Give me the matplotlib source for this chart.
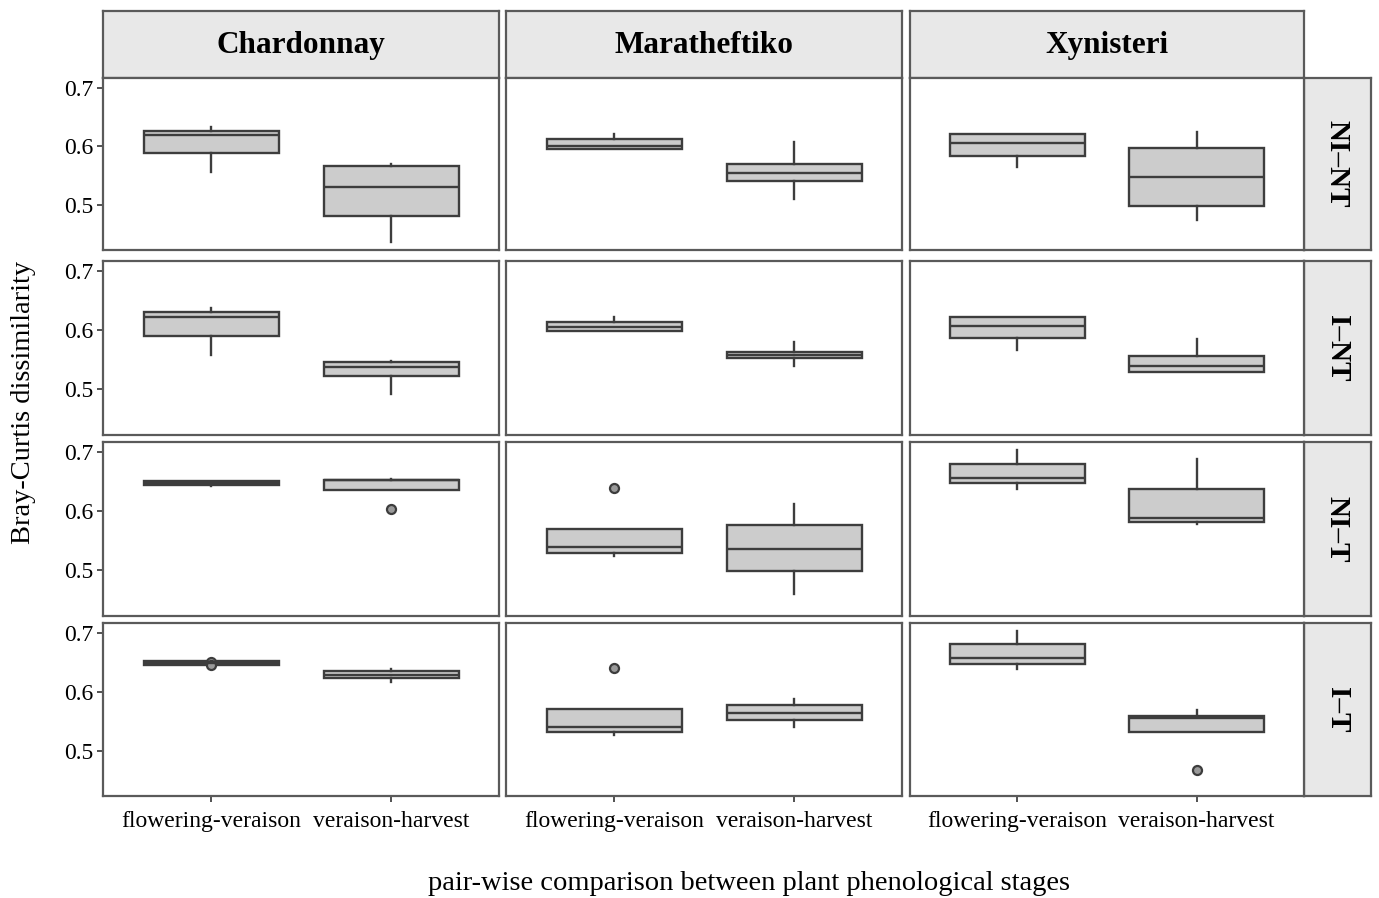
import matplotlib
matplotlib.use("Agg")
import matplotlib.pyplot as plt

plt.rcParams['font.family'] = ['Liberation Serif', 'DejaVu Serif']

# Facet levels
cultivars = ["Chardonnay", "Maratheftiko", "Xynisteri"]
treatments = ["NI–NT", "I–NT", "NI–T", "I–T"]
comparisons = ["flowering-veraison", "veraison-harvest"]

# Box summaries per (treatment, cultivar): [whislo, q1, median, q3, whishi]
# listed as flowering-veraison then veraison-harvest
chardonnay_stats = [
    [[0.556, 0.588, 0.619, 0.627, 0.634], [0.436, 0.481, 0.530, 0.566, 0.570]],
    [[0.559, 0.590, 0.623, 0.630, 0.637], [0.493, 0.522, 0.538, 0.547, 0.548]],
    [[0.643, 0.645, 0.648, 0.651, 0.651], [0.636, 0.636, 0.652, 0.653, 0.654]],
    [[0.646, 0.646, 0.649, 0.652, 0.652], [0.617, 0.623, 0.629, 0.636, 0.639]],
]
maratheftiko_stats = [
    [[0.596, 0.596, 0.601, 0.613, 0.621], [0.511, 0.541, 0.554, 0.570, 0.607]],
    [[0.598, 0.598, 0.605, 0.614, 0.623], [0.539, 0.553, 0.559, 0.564, 0.580]],
    [[0.525, 0.530, 0.540, 0.570, 0.570], [0.461, 0.499, 0.537, 0.576, 0.613]],
    [[0.526, 0.531, 0.540, 0.571, 0.571], [0.540, 0.552, 0.564, 0.577, 0.588]],
]
xynisteri_stats = [
    [[0.565, 0.584, 0.606, 0.621, 0.621], [0.475, 0.499, 0.548, 0.598, 0.625]],
    [[0.567, 0.587, 0.608, 0.623, 0.623], [0.529, 0.529, 0.539, 0.557, 0.586]],
    [[0.638, 0.647, 0.657, 0.680, 0.704], [0.578, 0.582, 0.588, 0.638, 0.689]],
    [[0.639, 0.648, 0.658, 0.681, 0.704], [0.531, 0.531, 0.555, 0.559, 0.570]],
]

# Outlying points per (treatment, cultivar), same ordering
chardonnay_fliers = [
    [[], []],
    [[], []],
    [[], [0.604]],
    [[0.651, 0.646], []],
]
maratheftiko_fliers = [
    [[], []],
    [[], []],
    [[0.640], []],
    [[0.641], []],
]
xynisteri_fliers = [
    [[], []],
    [[], []],
    [[], []],
    [[], [0.467]],
]

stats_by_cultivar = [chardonnay_stats, maratheftiko_stats, xynisteri_stats]
fliers_by_cultivar = [chardonnay_fliers, maratheftiko_fliers, xynisteri_fliers]

y_ticks = [0.5, 0.6, 0.7]
y_limits = (0.423, 0.717)

W, H = 1379, 898
fig = plt.figure(figsize=(W / 100, H / 100), dpi=100)
fig.patch.set_facecolor("white")


def px_axes(x0, y0, x1, y1):
    """Axes from pixel box (top-left origin)."""
    return fig.add_axes([x0 / W, 1 - y1 / H, (x1 - x0) / W, (y1 - y0) / H])


col_x = [(103, 499), (506, 902), (910, 1304)]
row_y = [(78, 250), (261, 435), (442, 616), (623, 796)]
strip_top = (11, 78)
strip_right = (1304, 1371)

border_col = "#5a5a5a"
box_edge = "#3d3d3d"
box_fill = "#cccccc"
strip_fill = "#e8e8e8"

for ci, cult in enumerate(cultivars):
    x0, x1 = col_x[ci]
    sax = px_axes(x0, strip_top[0], x1, strip_top[1])
    sax.set_facecolor(strip_fill)
    sax.set_xticks([]); sax.set_yticks([])
    for s in sax.spines.values():
        s.set_color(border_col); s.set_linewidth(1.6)
    sax.text(0.5, 0.48, cult, ha="center", va="center", fontsize=22.5,
             fontweight="bold", transform=sax.transAxes)

for ri, trt in enumerate(treatments):
    y0, y1 = row_y[ri]
    rax = px_axes(strip_right[0], y0, strip_right[1], y1)
    rax.set_facecolor(strip_fill)
    rax.set_xticks([]); rax.set_yticks([])
    for s in rax.spines.values():
        s.set_color(border_col); s.set_linewidth(1.6)
    rax.text(0.5, 0.5, trt, ha="center", va="center", fontsize=21,
             fontweight="bold", rotation=-90, transform=rax.transAxes)

    for ci in range(len(cultivars)):
        x0, x1 = col_x[ci]
        ax = px_axes(x0, y0, x1, y1)
        stats = []
        for k, comp in enumerate(comparisons):
            lo, q1, med, q3, hi = stats_by_cultivar[ci][ri][k]
            stats.append(dict(label=comp, whislo=lo, q1=q1, med=med, q3=q3,
                              whishi=hi, fliers=fliers_by_cultivar[ci][ri][k]))
        ax.bxp(stats, positions=[1, 2], widths=0.75, patch_artist=True,
               showcaps=False,
               boxprops=dict(facecolor=box_fill, edgecolor=box_edge, linewidth=1.7),
               medianprops=dict(color=box_edge, linewidth=1.7),
               whiskerprops=dict(color=box_edge, linewidth=1.7),
               flierprops=dict(marker="o", markersize=6.5, markerfacecolor="#9a9a9a",
                               markeredgecolor=box_edge, markeredgewidth=1.6))
        ax.set_xlim(0.4, 2.6)
        ax.set_ylim(*y_limits)
        ax.set_yticks(y_ticks)
        for s in ax.spines.values():
            s.set_color(border_col); s.set_linewidth(1.6)
        ax.tick_params(axis="both", colors="#333333", length=4, width=1.2,
                       labelcolor="black", labelsize=17)
        if ci == 0:
            ax.set_yticklabels([f"{t:.1f}" for t in y_ticks])
            ax.tick_params(axis="y", pad=3)
        else:
            ax.tick_params(axis="y", length=0, labelleft=False)
        ax.set_xticks([1, 2])
        if ri == len(treatments) - 1:
            ax.set_xticklabels(comparisons, fontsize=17)
            ax.tick_params(axis="x", pad=7)
        else:
            ax.tick_params(axis="x", length=0, labelbottom=False)

fig.text(24 / W, 1 - 402 / H, "Bray-Curtis dissimilarity", rotation=90,
         ha="center", va="center", fontsize=20.5)
fig.text(749 / W, 1 - 884 / H, "pair-wise comparison between plant phenological stages",
         ha="center", va="center", fontsize=20.5)

fig.savefig("out.png", dpi=100, facecolor="white")
